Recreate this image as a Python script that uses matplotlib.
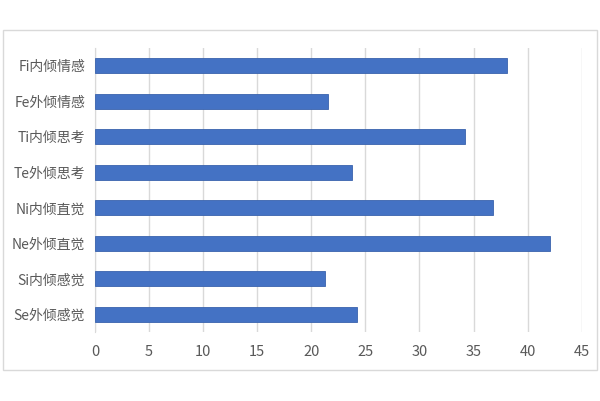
import matplotlib
matplotlib.use('Agg')
import matplotlib.pyplot as plt
from matplotlib.patches import Rectangle

plt.rcParams['font.family'] = ['Noto Sans CJK SC', 'DejaVu Sans']

# Categories listed bottom to top
categories = ['Se外倾感觉', 'Si内倾感觉', 'Ne外倾直觉', 'Ni内倾直觉',
              'Te外倾思考', 'Ti内倾思考', 'Fe外倾情感', 'Fi内倾情感']
values = [24.2, 21.3, 42.1, 36.8, 23.8, 34.2, 21.5, 38.1]
x_ticks = [0, 5, 10, 15, 20, 25, 30, 35, 40, 45]

fig = plt.figure(figsize=(6.0, 4.01), dpi=100)
ax = fig.add_axes([0.1583, 0.172, 0.8112, 0.708])

# Chart border like Excel
fig.patches.append(Rectangle((0.005, 0.077), 0.99, 0.848, transform=fig.transFigure,
                             fill=False, edgecolor='#d9d9d9', linewidth=1.0))

ax.barh(range(len(categories)), values, height=0.42, color='#4472C4',
        edgecolor='#3a63ad', linewidth=0.6, zorder=3)

ax.set_xlim(0, 45)
ax.set_ylim(-0.5, len(categories) - 0.5)
ax.set_xticks(x_ticks)
ax.set_yticks(range(len(categories)))
ax.set_yticklabels(categories)

ax.grid(axis='x', color='#d9d9d9', linewidth=1.0, zorder=0)
for side in ['top', 'right', 'bottom']:
    ax.spines[side].set_visible(False)
ax.spines['left'].set_color('#d9d9d9')
ax.tick_params(axis='y', length=0, pad=7, labelsize=10, labelcolor='#595959')
ax.tick_params(axis='x', length=0, pad=9, labelsize=10.5, labelcolor='#595959')

plt.savefig('out.png', dpi=100)
